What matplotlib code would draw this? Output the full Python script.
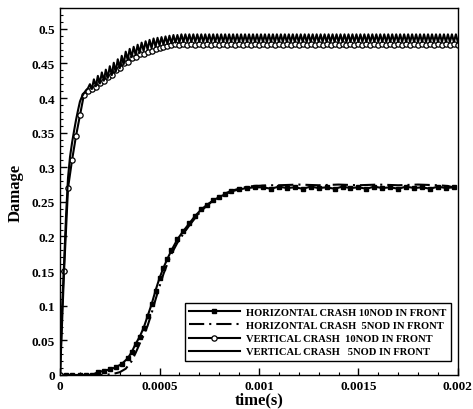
import numpy as np
import matplotlib
matplotlib.use('Agg')
import matplotlib.pyplot as plt
from matplotlib.ticker import MultipleLocator, FuncFormatter

plt.rcParams['font.family'] = 'Liberation Serif'
plt.rcParams['font.weight'] = 'bold'

# vertical crash, 10 nodes in front (circles), step 0.00002 s
v10_y = [0.0, 0.15, 0.27, 0.31, 0.345, 0.375, 0.405, 0.41, 0.413, 0.416,
         0.422, 0.424, 0.431, 0.433, 0.441, 0.444, 0.451, 0.452, 0.458, 0.459,
         0.463, 0.464, 0.467, 0.468, 0.471, 0.472, 0.474, 0.475, 0.476] + [0.478, 0.476] * 36
v10_t = np.arange(len(v10_y)) * 0.00002

# vertical crash, 5 nodes in front (solid, zigzag), step 0.00001 s
v5_y = [0.0, 0.095, 0.16, 0.23, 0.285, 0.315, 0.335, 0.352, 0.368, 0.382,
        0.395, 0.402, 0.407, 0.411, 0.414, 0.420, 0.413, 0.427, 0.417, 0.432,
        0.421, 0.437, 0.425, 0.441, 0.429, 0.446, 0.433, 0.451, 0.438, 0.456,
        0.443, 0.461, 0.449, 0.467, 0.455, 0.471, 0.459, 0.474, 0.462, 0.477,
        0.465, 0.480, 0.468, 0.482, 0.470, 0.484, 0.472, 0.486, 0.474, 0.487,
        0.476, 0.488, 0.477, 0.489, 0.478, 0.490, 0.479, 0.491, 0.480, 0.491,
        0.480] + [0.492, 0.481] * 70
v5_t = np.arange(len(v5_y)) * 0.00001

# horizontal crash, 10 nodes in front (squares)
h10_t = [0, 0.00003, 0.00006, 0.0001, 0.00013, 0.00016, 0.00019, 0.00022, 0.00025, 0.00028,
         0.00031, 0.00034, 0.00036, 0.00038, 0.0004, 0.00042, 0.00044, 0.00046, 0.00048, 0.0005,
         0.00052, 0.00054, 0.00056, 0.00059, 0.00062, 0.00065, 0.00068, 0.00071, 0.00074, 0.00077,
         0.0008, 0.00083, 0.00086, 0.0009, 0.00094, 0.00098, 0.00102, 0.00106, 0.0011, 0.00114,
         0.00118, 0.00122, 0.00126, 0.0013, 0.00134, 0.00138, 0.00142, 0.00146, 0.0015, 0.00154,
         0.00158, 0.00162, 0.00166, 0.0017, 0.00174, 0.00178, 0.00182, 0.00186, 0.0019, 0.00194,
         0.00198]
h10_y = [0, 0, 0, 0, 0, 0, 0.004, 0.006, 0.008, 0.011,
         0.016, 0.024, 0.033, 0.045, 0.055, 0.068, 0.085, 0.102, 0.122, 0.14,
         0.155, 0.168, 0.18, 0.196, 0.208, 0.219, 0.23, 0.239, 0.246, 0.252,
         0.257, 0.261, 0.265, 0.268, 0.27, 0.271, 0.271, 0.269, 0.272, 0.270,
         0.271, 0.269, 0.272, 0.270, 0.271, 0.269, 0.272, 0.270, 0.271, 0.269,
         0.272, 0.270, 0.271, 0.269, 0.272, 0.270, 0.271, 0.269, 0.272, 0.270,
         0.271]

# horizontal crash, 5 nodes in front (dash-dot)
h5_t = [0, 0.0001, 0.0002, 0.00026, 0.0003, 0.00033, 0.00036, 0.00038, 0.0004, 0.00042,
        0.00044, 0.00046, 0.00048, 0.0005, 0.00052, 0.00054, 0.00056, 0.00059, 0.00062, 0.00065,
        0.00068, 0.00071, 0.00074, 0.00077, 0.0008, 0.00083, 0.00086, 0.0009, 0.00094, 0.00098,
        0.00105, 0.0011, 0.0012, 0.0013, 0.0014, 0.0015, 0.0016, 0.0017, 0.0018, 0.0019,
        0.00195, 0.002]
h5_y = [0, 0, 0, 0.001, 0.004, 0.009, 0.02, 0.032, 0.045, 0.057,
        0.071, 0.089, 0.109, 0.128, 0.146, 0.161, 0.175, 0.191, 0.204, 0.216,
        0.227, 0.237, 0.245, 0.252, 0.258, 0.262, 0.266, 0.269, 0.272, 0.273,
        0.274, 0.274, 0.275, 0.274, 0.275, 0.274, 0.275, 0.274, 0.275, 0.274,
        0.273, 0.269]

labels = ['HORIZONTAL CRASH 10NOD IN FRONT', 'HORIZONTAL CRASH  5NOD IN FRONT',
          'VERTICAL CRASH  10NOD IN FRONT', 'VERTICAL CRASH   5NOD IN FRONT']

fig = plt.figure(figsize=(4.73, 4.10), dpi=100)
ax = fig.add_axes([0.127, 0.083, 0.841, 0.895])

ax.plot(h10_t, h10_y, color='black', lw=1.5, marker='s', ms=3, label=labels[0])
ax.plot(h5_t, h5_y, color='black', lw=1.5, dashes=(7.3, 2.4, 1, 2.4), label=labels[1])
ax.plot(v10_t, v10_y, color='black', lw=1.5, marker='o', ms=3.8, mfc='white', mec='black',
        mew=0.9, label=labels[2])
ax.plot(v5_t, v5_y, color='black', lw=1.5, label=labels[3])

ax.set_xlim(0, 0.002)
ax.set_ylim(0, 0.53)
ax.xaxis.set_major_locator(MultipleLocator(0.0005))
ax.xaxis.set_minor_locator(MultipleLocator(0.0001))
ax.yaxis.set_major_locator(MultipleLocator(0.05))
ax.yaxis.set_minor_locator(MultipleLocator(0.01))
fmt = FuncFormatter(lambda v, p: '0' if abs(v) < 1e-12 else '%g' % v)
ax.xaxis.set_major_formatter(fmt)
ax.yaxis.set_major_formatter(fmt)
ax.tick_params(which='both', direction='in', top=False, right=False, labelsize=9.5)
ax.tick_params(which='major', length=5, width=1)
ax.tick_params(which='minor', length=2.5, width=0.8)
for s in ax.spines.values():
    s.set_linewidth(1)

ax.set_xlabel('time(s)', fontsize=12, fontweight='bold', labelpad=0)
ax.set_ylabel('Damage', fontsize=12, fontweight='bold', labelpad=6)

leg = ax.legend(loc='lower right', bbox_to_anchor=(0.995, 0.025), fontsize=7.6,
                handlelength=4.8, handletextpad=0.6, labelspacing=0.35,
                fancybox=False, framealpha=1, edgecolor='black', borderpad=0.4)
leg.get_frame().set_linewidth(1)

fig.savefig('out.png', dpi=100)
